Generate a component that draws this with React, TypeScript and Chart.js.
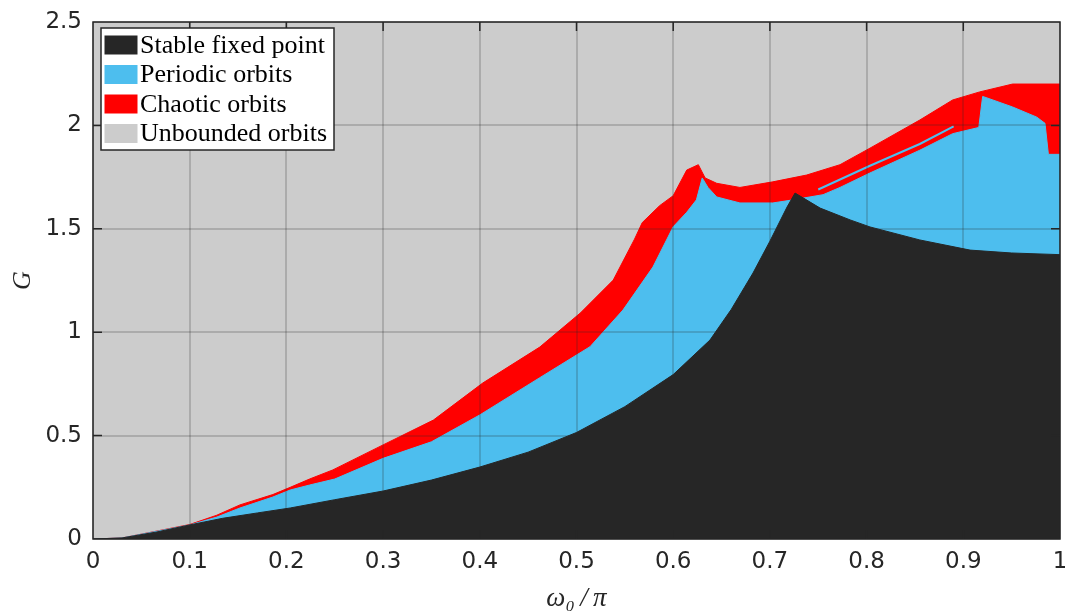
import { useEffect, useRef } from 'react';
import { Chart, registerables } from 'chart.js';

Chart.register(...registerables);

// ---- data ----
const blackX = [0, 0.03, 0.066, 0.1, 0.134, 0.17, 0.204, 0.25, 0.3, 0.35, 0.4, 0.45, 0.5, 0.55, 0.6, 0.638, 0.66, 0.6825, 0.7, 0.7177, 0.726, 0.752, 0.783, 0.8035, 0.855, 0.907, 0.95, 1];
const blackG = [0, 0.005, 0.034, 0.068, 0.1, 0.126, 0.15, 0.19, 0.232, 0.285, 0.348, 0.42, 0.515, 0.64, 0.795, 0.962, 1.11, 1.286, 1.44, 1.605, 1.673, 1.6, 1.543, 1.509, 1.446, 1.397, 1.383, 1.375];

const blueX = [0, 0.03, 0.1, 0.128, 0.152, 0.186, 0.204, 0.224, 0.25, 0.3, 0.35, 0.4, 0.462, 0.514, 0.548, 0.579, 0.6, 0.614, 0.624, 0.63, 0.636, 0.645, 0.669, 0.703, 0.724, 0.755, 0.7725, 0.8035, 0.855, 0.889, 0.916, 0.92, 0.9245, 0.951, 0.976, 0.9845, 0.988, 1];
const blueG = [0, 0.005, 0.068, 0.106, 0.15, 0.203, 0.237, 0.261, 0.29, 0.39, 0.47, 0.6, 0.78, 0.93, 1.107, 1.315, 1.51, 1.58, 1.64, 1.746, 1.7, 1.654, 1.625, 1.625, 1.64, 1.665, 1.7, 1.77, 1.88, 1.96, 1.99, 2.14, 2.133, 2.089, 2.04, 2.01, 1.86, 1.86];

const redX = [0, 0.03, 0.1, 0.128, 0.152, 0.186, 0.204, 0.224, 0.248, 0.3, 0.352, 0.403, 0.462, 0.504, 0.538, 0.56, 0.568, 0.586, 0.6, 0.614, 0.626, 0.633, 0.645, 0.669, 0.703, 0.738, 0.7725, 0.8035, 0.855, 0.889, 0.917, 0.951, 1];
const redG = [0, 0.005, 0.07, 0.115, 0.165, 0.215, 0.25, 0.29, 0.334, 0.455, 0.575, 0.754, 0.928, 1.093, 1.252, 1.45, 1.53, 1.612, 1.66, 1.784, 1.81, 1.746, 1.72, 1.7, 1.727, 1.76, 1.81, 1.89, 2.026, 2.123, 2.162, 2.2, 2.2];

const streakX = [0.75, 0.8035, 0.855, 0.89];
const streakG = [1.69, 1.805, 1.91, 1.995];

const xTickLabels = ['0', '0.1', '0.2', '0.3', '0.4', '0.5', '0.6', '0.7', '0.8', '0.9', '1'];
const yTickLabels = ['0', '0.5', '1', '1.5', '2', '2.5'];

const legendLabels = ['Stable fixed point', 'Periodic orbits', 'Chaotic orbits', 'Unbounded orbits'];

const BLACK = '#262626';
const BLUE = '#4DBEEE';
const RED = '#FF0000';
const GRAY = '#CCCCCC';
const legendColors = [BLACK, BLUE, RED, GRAY];

const toPts = (xs: number[], ys: number[]) => xs.map((x, i) => ({ x, y: ys[i] }));

export default function App() {
  const ref = useRef<HTMLCanvasElement | null>(null);

  useEffect(() => {
    if (!ref.current) return;

    const bg = {
      id: 'bg',
      beforeDraw(chart: any) {
        const { ctx, chartArea: a } = chart;
        if (!a) return;
        ctx.save();
        ctx.fillStyle = GRAY;
        ctx.fillRect(a.left, a.top, a.right - a.left, a.bottom - a.top);
        ctx.restore();
      },
    };

    const frame = {
      id: 'frame',
      afterDraw(chart: any) {
        const { ctx, chartArea: a, scales } = chart;
        const xs = scales.x;
        const ys = scales.y;
        ctx.save();
        ctx.strokeStyle = BLACK;
        ctx.lineWidth = 1.5;
        ctx.strokeRect(a.left, a.top, a.right - a.left, a.bottom - a.top);
        const tl = 9;
        ctx.beginPath();
        for (let i = 1; i < xTickLabels.length - 1; i++) {
          const px = xs.getPixelForValue(i / 10);
          ctx.moveTo(px, a.bottom);
          ctx.lineTo(px, a.bottom - tl);
          ctx.moveTo(px, a.top);
          ctx.lineTo(px, a.top + tl);
        }
        for (let i = 1; i < yTickLabels.length - 1; i++) {
          const py = ys.getPixelForValue(i * 0.5);
          ctx.moveTo(a.left, py);
          ctx.lineTo(a.left + tl, py);
          ctx.moveTo(a.right, py);
          ctx.lineTo(a.right - tl, py);
        }
        ctx.stroke();

        // legend
        const lx = a.left + 8;
        const ly = a.top + 6;
        const lw = 233;
        const lh = 122;
        ctx.fillStyle = '#FFFFFF';
        ctx.fillRect(lx, ly, lw, lh);
        ctx.lineWidth = 1.5;
        ctx.strokeStyle = BLACK;
        ctx.strokeRect(lx, ly, lw, lh);
        ctx.font = '26px "Liberation Serif", serif';
        ctx.textBaseline = 'middle';
        ctx.textAlign = 'left';
        legendLabels.forEach((lab, i) => {
          const cy = ly + 17 + i * 29.5;
          ctx.fillStyle = legendColors[i];
          ctx.fillRect(lx + 3.5, cy - 9.5, 33, 19);
          ctx.fillStyle = '#000000';
          ctx.fillText(lab, lx + 39, cy + 1);
        });
        ctx.restore();
      },
    };

    const chart = new Chart(ref.current, {
      type: 'line',
      data: {
        datasets: [
          {
            label: 'Stable fixed point',
            data: toPts(blackX, blackG),
            borderColor: BLACK,
            backgroundColor: BLACK,
            borderWidth: 1,
            fill: 'origin',
            pointRadius: 0,
            tension: 0,
            order: 0,
          },
          {
            label: 'streak',
            data: toPts(streakX, streakG),
            borderColor: BLUE,
            borderWidth: 2,
            fill: false,
            pointRadius: 0,
            tension: 0,
            order: 1,
          },
          {
            label: 'Periodic orbits',
            data: toPts(blueX, blueG),
            borderColor: BLUE,
            backgroundColor: BLUE,
            borderWidth: 1,
            fill: 'origin',
            pointRadius: 0,
            tension: 0,
            order: 2,
          },
          {
            label: 'Chaotic orbits',
            data: toPts(redX, redG),
            borderColor: RED,
            backgroundColor: RED,
            borderWidth: 1,
            fill: 'origin',
            pointRadius: 0,
            tension: 0,
            order: 3,
          },
        ],
      },
      options: {
        animation: false,
        responsive: true,
        maintainAspectRatio: false,
        layout: { padding: { top: 22, right: 5, left: 0, bottom: 0 } },
        plugins: {
          legend: { display: false },
          tooltip: { enabled: false },
        },
        scales: {
          x: {
            type: 'linear',
            min: 0,
            max: 1,
            afterFit: (s: any) => {
              s.height = 73;
              s.paddingLeft = 0;
              s.paddingRight = 0;
            },
            border: { display: false },
            grid: { color: 'rgba(38,38,38,0.2)', lineWidth: 2, drawTicks: false, z: 1 },
            ticks: {
              stepSize: 0.1,
              padding: 9,
              color: BLACK,
              maxRotation: 0,
              autoSkip: false,
              font: { family: '"DejaVu Sans", sans-serif', size: 23 },
              callback: (v: any) => xTickLabels[Math.round(Number(v) * 10)] ?? '',
            },
            title: {
              display: true,
              text: 'ω₀\u2009/\u2009π',
              color: BLACK,
              padding: { top: 0, bottom: 0 },
              font: { family: '"Liberation Serif", serif', size: 27, style: 'italic', lineHeight: 1 },
            },
          },
          y: {
            type: 'linear',
            min: 0,
            max: 2.5,
            afterFit: (s: any) => {
              s.width = 93;
              s.paddingTop = 0;
              s.paddingBottom = 0;
            },
            border: { display: false },
            grid: { color: 'rgba(38,38,38,0.2)', lineWidth: 2, drawTicks: false, z: 1 },
            ticks: {
              stepSize: 0.5,
              padding: 11,
              color: BLACK,
              font: { family: '"DejaVu Sans", sans-serif', size: 23 },
              callback: (v: any) => yTickLabels[Math.round(Number(v) * 2)] ?? '',
            },
            title: {
              display: true,
              text: 'G',
              color: BLACK,
              padding: { top: 10, bottom: 0 },
              font: { family: '"Liberation Serif", serif', size: 26, style: 'italic', lineHeight: 1 },
            },
          },
        },
      } as any,
      plugins: [bg, frame],
    });

    return () => chart.destroy();
  }, []);

  return (
    <div style={{ position: 'fixed', left: 0, top: 0, width: 1065, height: 612, background: '#FFFFFF' }}>
      <canvas ref={ref} />
    </div>
  );
}
